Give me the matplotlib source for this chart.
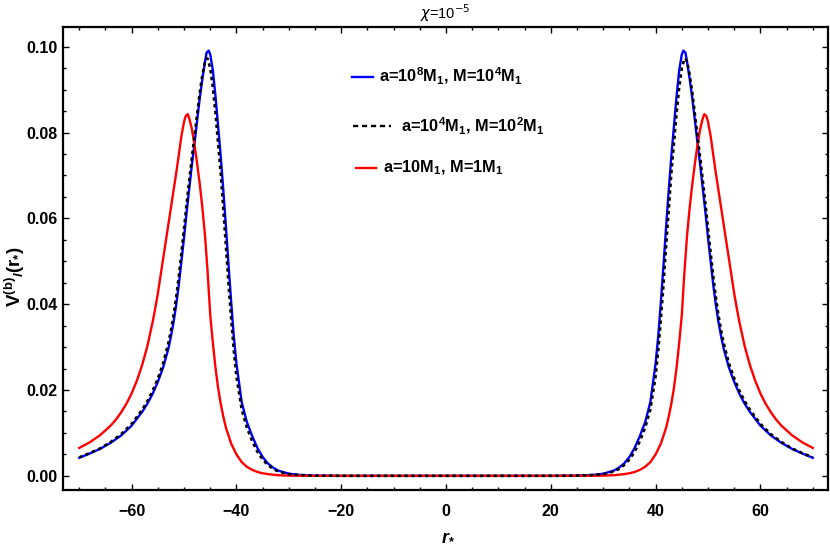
import matplotlib
matplotlib.use("Agg")
import matplotlib.pyplot as plt
import numpy as np
from matplotlib.ticker import MultipleLocator
from matplotlib.lines import Line2D

plt.rcParams['font.family'] = ['Liberation Sans', 'DejaVu Sans']
plt.rcParams['mathtext.fontset'] = 'custom'
plt.rcParams['mathtext.rm'] = 'Liberation Sans:bold'
plt.rcParams['mathtext.bf'] = 'Liberation Sans:bold'
plt.rcParams['mathtext.it'] = 'Liberation Sans:bold:italic'
plt.rcParams['mathtext.sf'] = 'Liberation Sans:bold'

# ---- data (right half, r_* >= 0; the potential is symmetric in r_*) ----
blue_x = [0, 10, 20, 25, 28, 30, 32, 33, 34, 35, 36, 37, 38, 39, 40, 40.5, 41, 41.5,
          42, 42.5, 43, 43.5, 44, 44.5, 45, 45.3, 45.7, 46, 46.5, 47, 47.5, 48, 48.5,
          49, 49.5, 50, 50.5, 51, 51.5, 52, 52.5, 53, 54, 55, 56, 57, 58, 60, 62, 64,
          66, 68, 70]
blue_v = [0.0, 0.0, 0.0, 0.00005, 0.0002, 0.0005, 0.0012, 0.0019, 0.0029, 0.0044,
          0.0065, 0.0093, 0.0125, 0.0172, 0.0262, 0.0325, 0.0405, 0.049, 0.058,
          0.0665, 0.0745, 0.0815, 0.0885, 0.0945, 0.0982, 0.0991, 0.0986, 0.0965,
          0.0925, 0.0880, 0.0828, 0.0775, 0.0725, 0.0670, 0.0615, 0.0555, 0.0500,
          0.0445, 0.0398, 0.0358, 0.0325, 0.0296, 0.0252, 0.0219, 0.0191, 0.0168,
          0.0149, 0.0117, 0.0094, 0.0077, 0.0063, 0.0052, 0.0042]

black_x = [0, 10, 20, 25, 28, 30, 32, 33, 34, 35, 36, 37, 38, 39, 40, 40.5, 41, 41.5,
           42, 42.5, 43, 43.5, 44, 44.5, 45, 45.5, 45.7, 46, 46.5, 47, 47.5, 48, 48.5,
           49, 49.5, 50, 50.5, 51, 51.5, 52, 52.5, 53, 54, 55, 56, 57, 58, 60, 62, 64,
           66, 68, 70]
black_v = [0.0, 0.0, 0.0, 0.00004, 0.0002, 0.0004, 0.0010, 0.0016, 0.0025, 0.0038,
           0.0056, 0.0081, 0.0112, 0.0155, 0.0232, 0.0292, 0.0365, 0.0445, 0.0535,
           0.0620, 0.0705, 0.0775, 0.0845, 0.0905, 0.0950, 0.0972, 0.0973, 0.0965,
           0.0935, 0.0893, 0.0843, 0.0792, 0.0742, 0.0690, 0.0635, 0.0577, 0.0520,
           0.0465, 0.0416, 0.0374, 0.0339, 0.0309, 0.0262, 0.0227, 0.0198, 0.0174,
           0.0154, 0.0121, 0.0097, 0.0079, 0.0064, 0.0053, 0.0043]

red_x = [0, 10, 20, 25, 28, 30, 32, 34, 35, 36, 37, 38, 39, 40, 41, 42, 42.5, 43, 43.5,
         44, 44.5, 45, 45.5, 46, 46.5, 47, 47.5, 48, 48.5, 49, 49.3, 49.7, 50, 50.5,
         51, 51.5, 52, 52.5, 53, 53.5, 54, 54.5, 55, 55.5, 56, 57, 58, 59, 60, 61, 62,
         63, 64, 66, 68, 70]
red_v = [0.0, 0.0, 0.0, 0.00001, 0.00002, 0.00005, 0.00015, 0.0004, 0.0006, 0.0009,
         0.0014, 0.0021, 0.0032, 0.0050, 0.0075, 0.0112, 0.0138, 0.0168, 0.0205,
         0.0252, 0.0310, 0.0375, 0.0475, 0.0560, 0.0625, 0.0680, 0.0728, 0.0772,
         0.0808, 0.0833, 0.0843, 0.0838, 0.0825, 0.0792, 0.0748, 0.0705, 0.0665,
         0.0625, 0.0585, 0.0545, 0.0505, 0.0465, 0.0425, 0.0390, 0.0358, 0.0302,
         0.0258, 0.0222, 0.0192, 0.0168, 0.0148, 0.0131, 0.0117, 0.0095, 0.0078,
         0.0065]

labels = [r"a=10$^8$M$_1$, M=10$^4$M$_1$",
          r"a=10$^4$M$_1$, M=10$^2$M$_1$",
          r"a=10M$_1$, M=1M$_1$"]


def full(xs, vs):
    xs = np.asarray(xs, float)
    vs = np.asarray(vs, float)
    return (np.concatenate([-xs[::-1], xs[1:]]),
            np.concatenate([vs[::-1], vs[1:]]))


fig = plt.figure(figsize=(8.30, 5.47), dpi=100)
ax = fig.add_axes([63 / 830, 1 - 490 / 547, (828 - 63) / 830, (490 - 27) / 547])

bx, bv = full(blue_x, blue_v)
kx, kv = full(black_x, black_v)
rx, rv = full(red_x, red_v)

ax.plot(bx, bv, color='#0000FF', lw=1.7, solid_joinstyle='round')
ax.plot(rx, rv, color='#FF0000', lw=1.7, solid_joinstyle='round')
ax.plot(kx, kv, color='black', lw=1.9, linestyle=(0, (1.3, 1.3)))

ax.set_xlim(-73.1, 72.9)
ax.set_ylim(-0.0033, 0.1046)

ax.xaxis.set_major_locator(MultipleLocator(20))
ax.xaxis.set_minor_locator(MultipleLocator(5))
ax.yaxis.set_major_locator(MultipleLocator(0.02))
ax.yaxis.set_minor_locator(MultipleLocator(0.005))
ax.yaxis.set_major_formatter(matplotlib.ticker.FuncFormatter(lambda v, p: f"{v:.2f}"))
ax.xaxis.set_major_formatter(matplotlib.ticker.FuncFormatter(
    lambda v, p: ("\u2212" if v < 0 else "") + f"{abs(v):.0f}"))

ax.tick_params(which='both', direction='in', top=True, right=True, width=1.0)
ax.tick_params(which='major', length=4.5)
ax.tick_params(which='minor', length=2.5)
ax.tick_params(axis='x', which='major', pad=10)
ax.tick_params(axis='y', which='major', pad=4)
for lab in ax.get_xticklabels() + ax.get_yticklabels():
    lab.set_fontweight('bold')
    lab.set_fontsize(11.5)
for s in ax.spines.values():
    s.set_linewidth(1.6)

# title and axis labels
fig.text(445.5 / 830, 1 - 13 / 547, r"$\chi$=10$^{-5}$", ha='center', va='center',
         fontsize=10.5, family=['Liberation Sans', 'DejaVu Sans'],
         math_fontfamily='dejavusans')
fig.text(448 / 830, 1 - 536 / 547, r"$r_{*}$", ha='center', va='center', fontsize=13)
fig.text(15 / 830, 1 - 277 / 547, r"$\mathrm{V}^{(\mathrm{b})}{}_{l}(\mathrm{r}_{*})$",
         ha='center', va='center', rotation=90, fontsize=13.5)

# manual legend (as in the original figure)
leg = [
    (351.7, 372.7, 76.7, 379.3, dict(color='#0000FF', lw=1.7)),
    (353.3, 390.7, 126.0, 400.7, dict(color='black', lw=1.7, linestyle=(0, (2.2, 1.6)))),
    (356.0, 376.0, 167.7, 383.3, dict(color='#FF0000', lw=1.7)),
]
for (x0, x1, yy, tx, st), lab in zip(leg, labels):
    fig.add_artist(Line2D([x0 / 830, x1 / 830], [1 - yy / 547, 1 - yy / 547],
                          transform=fig.transFigure, **st))
    fig.text(tx / 830, 1 - yy / 547, lab, ha='left', va='center', fontsize=11.8,
             fontweight='bold')

fig.savefig("out.png", dpi=100)
